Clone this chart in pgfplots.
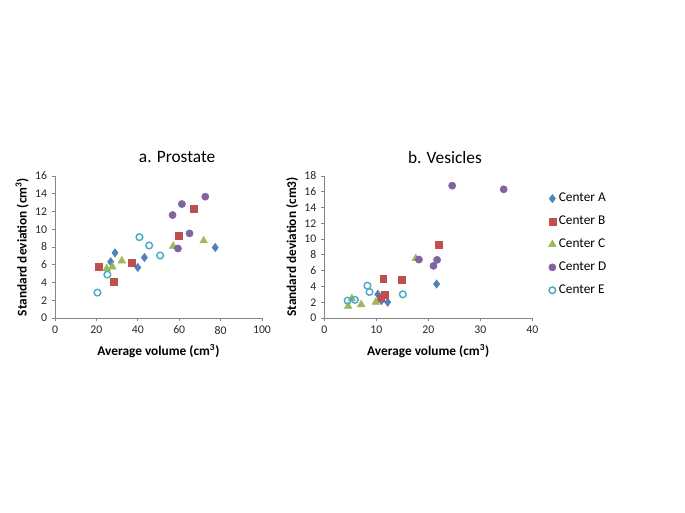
\documentclass[border=0pt]{standalone}
\usepackage{pgfplots}
\pgfplotsset{compat=1.18}
\usepackage{fontspec}
\setmainfont{Carlito}
\definecolor{cA}{HTML}{4F81BD}
\definecolor{cB}{HTML}{C0504D}
\definecolor{cC}{HTML}{9BBB59}
\definecolor{cD}{HTML}{8064A2}
\definecolor{cE}{HTML}{4BACC6}
\definecolor{axgray}{HTML}{868686}
\pgfplotsset{
  mystyle/.style={
    scale only axis,
    axis x line=bottom, axis y line=left,
    axis line style={axgray, -, line width=0.6pt},
    tick style={axgray, line width=0.6pt},
    tick align=outside, major tick length=2.5pt,
    tick label style={font=\fontsize{8.8}{10.5}\selectfont, text=black!85},
    /pgf/number format/assume math mode=true,
    label style={font=\bfseries\fontsize{10}{12}\selectfont},
    title style={font=\fontsize{13}{15}\selectfont},
    xlabel style={at={(axis description cs:0.5,-0.23)}, anchor=center},
    clip=false,
  },
  mA/.style={only marks, mark=diamond*, mark size=3.1pt, mark options={fill=cA, draw=cA}},
  mB/.style={only marks, mark=square*, mark size=2.6pt, mark options={fill=cB, draw=cB}},
  mC/.style={only marks, mark=triangle*, mark size=3.3pt, mark options={fill=cC, draw=cC}},
  mD/.style={only marks, mark=*, mark size=2.7pt, mark options={fill=cD, draw=cD}},
  mE/.style={only marks, mark=o, mark size=2.5pt, mark options={draw=cE, line width=1.1pt}},
}
\begin{document}
\begin{tikzpicture}
\path[use as bounding box] (0,0) rectangle (513.75pt,384.75pt);
\begin{axis}[mystyle,
  at={(41.25pt,146.25pt)}, anchor=south west,
  width=155.25pt, height=106.5pt,
  xmin=0, xmax=100, ymin=0, ymax=16,
  xtick={0,20,...,100}, ytick={0,2,...,16},
  title={a. Prostate},
  title style={at={(axis description cs:0.59,1.077)}, anchor=center},
  xlabel={Average volume (cm\textsuperscript{3})},
  ylabel={Standard deviation (cm\textsuperscript{3})},
  ylabel style={at={(axis description cs:-0.159,0.5)}, anchor=center, rotate=0},
]
\addplot[mA] coordinates {(29.0,7.34) (26.9,6.33) (40.0,5.69) (43.2,6.81) (77.4,7.94)};
\addplot[mB] coordinates {(21.0,5.72) (28.2,4.10) (37.3,6.21) (60.0,9.26) (66.9,12.31)};
\addplot[mC] coordinates {(25.0,5.57) (27.7,5.76) (32.3,6.44) (57.1,8.09) (71.8,8.70)};
\addplot[mD] coordinates {(56.8,11.6) (61.3,12.84) (72.6,13.67) (65.0,9.53) (59.4,7.83)};
\addplot[mE] coordinates {(20.5,2.86) (25.3,4.89) (40.8,9.11) (45.5,8.17) (50.8,7.04)};
\end{axis}
\begin{axis}[mystyle,
  at={(243.2pt,146.25pt)}, anchor=south west,
  width=156pt, height=106.5pt,
  xmin=0, xmax=40, ymin=0, ymax=18,
  xtick={0,10,...,40}, ytick={0,2,...,18},
  title={b. Vesicles},
  title style={at={(axis description cs:0.58,1.077)}, anchor=center},
  xlabel={Average volume (cm\textsuperscript{3})},
  ylabel={Standard deviation (cm3)},
  ylabel style={at={(axis description cs:-0.154,0.5)}, anchor=center, rotate=0},
  legend style={at={(axis description cs:1.077,0.518)}, anchor=west, draw=none,
    fill=none, inner sep=0pt, row sep=5.2pt,
    font=\fontsize{10}{12}\selectfont,
    /tikz/every even column/.append style={column sep=0pt}},
  legend cell align=left,
]
\addplot[mA] coordinates {(10.3,3.0) (11.0,2.2) (12.2,2.0) (21.6,4.3)};
\addlegendentry{Center A}
\addplot[mB] coordinates {(22.0,9.23) (11.35,5.0) (14.9,4.8) (11.7,3.0) (10.9,2.5)};
\addlegendentry{Center B}
\addplot[mC] coordinates {(4.6,1.5) (7.1,1.7) (9.9,2.0) (17.6,7.54) (5.3,2.45)};
\addlegendentry{Center C}
\addplot[mD] coordinates {(24.6,16.77) (34.5,16.31) (18.2,7.41) (21.0,6.61) (21.7,7.37)};
\addlegendentry{Center D}
\addplot[mE] coordinates {(4.5,2.2) (5.9,2.3) (8.3,4.1) (8.7,3.3) (15.1,3.0)};
\addlegendentry{Center E}
\end{axis}
\end{tikzpicture}
\end{document}
